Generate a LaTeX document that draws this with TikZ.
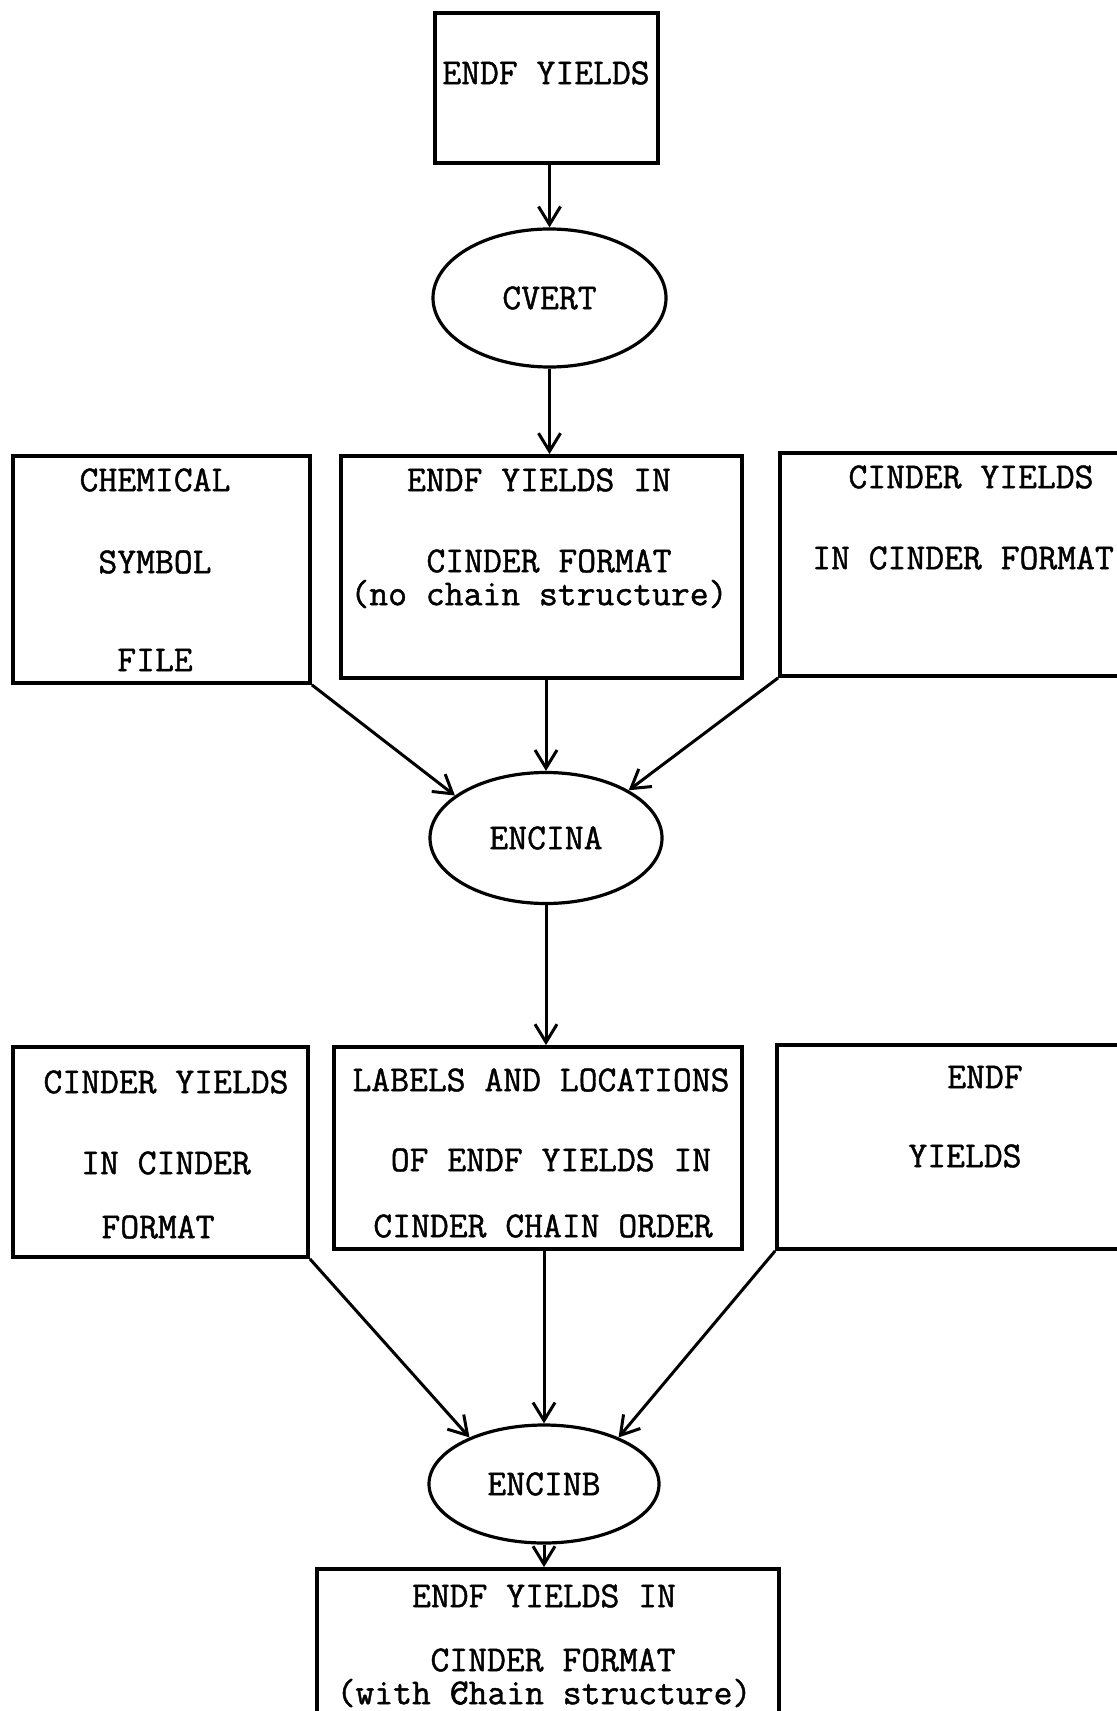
\documentclass[tikz,border=0pt]{standalone}
\usepackage{fontspec}
\usetikzlibrary{shapes.geometric,arrows.meta}

\newfontfamily\twfont{Latin Modern Mono}[BoldFont=*,BoldFeatures={FakeBold=1.2}]

\tikzset{
  datafile/.style={draw,line width=1.9pt,inner sep=0pt},
  prog/.style={draw,ellipse,line width=1.6pt,inner sep=0pt,font=\twfont\bfseries\fontsize{18.3}{22}\selectfont},
  txt/.style={inner sep=0pt,font=\twfont\bfseries\fontsize{18.3}{22}\selectfont},
  flow/.style={line width=1.5pt,-{Straight Barb[length=9pt,width=11pt]}}
}

\begin{document}
\begin{tikzpicture}[x=0.5pt,y=-0.5pt]

\useasboundingbox (0,0) rectangle (1117,1711);

% top
\node[datafile,minimum width=111.5pt,minimum height=75pt] (endf) at (546.5,88) {};
\node[txt] (endf-t) at (546,73) {ENDF YIELDS};

\node[prog,minimum width=116.5pt,minimum height=69pt] (cvert) at (549.5,298) {CVERT};

% first row
\node[datafile,minimum width=148.5pt,minimum height=113.5pt] (chem) at (161.5,569.5) {};
\node[txt] (chem-a) at (155,480) {CHEMICAL};
\node[txt] (chem-b) at (155,562) {SYMBOL};
\node[txt] (chem-c) at (155,660) {FILE};

\node[datafile,minimum width=200.5pt,minimum height=111pt] (endfin) at (541.5,567) {};
\node[txt] (endfin-a) at (539,480) {ENDF YIELDS IN};
\node[txt] (endfin-b) at (549,561) {CINDER FORMAT};
\node[txt] (endfin-c) at (539,594) {(no chain structure)};

\node[datafile,minimum width=175pt,minimum height=111.5pt] (cinder) at (955,564.5) {};
\node[txt] (cinder-a) at (971,477) {CINDER YIELDS};
\node[txt] (cinder-b) at (963,558) {IN CINDER FORMAT};

\node[prog,minimum width=116pt,minimum height=65.5pt] (encina) at (546,838) {ENCINA};

% second row
\node[datafile,minimum width=147.5pt,minimum height=105pt] (cinderb) at (160.5,1152) {};
\node[txt] (cinderb-a) at (166,1082) {CINDER YIELDS};
\node[txt] (cinderb-b) at (166,1163) {IN CINDER};
\node[txt] (cinderb-c) at (158,1227) {FORMAT};

\node[datafile,minimum width=204pt,minimum height=101pt] (labels) at (538,1148) {};
\node[txt] (labels-a) at (541,1080) {LABELS AND LOCATIONS};
\node[txt] (labels-b) at (551,1160) {OF ENDF YIELDS IN};
\node[txt] (labels-c) at (543,1226) {CINDER CHAIN ORDER};

\node[datafile,minimum width=176.5pt,minimum height=102pt] (endfb) at (953.5,1147) {};
\node[txt] (endfb-a) at (985,1077) {ENDF};
\node[txt] (endfb-b) at (965,1156) {YIELDS};

\node[prog,minimum width=115pt,minimum height=59pt] (encinb) at (544,1484) {ENCINB};

% result
\node[datafile,minimum width=231pt,minimum height=80.5pt] (result) at (548,1649.5) {};
\node[txt] (result-a) at (544,1596) {ENDF YIELDS IN};
\node[txt] (result-b) at (553,1660) {CINDER FORMAT};
\node[txt] (result-c) at (544,1693) {(with \rlap{c}Chain structure)};

% flow lines
\draw[flow] (endf.south -| cvert.north) -- (cvert.north);
\draw[flow] (cvert.south) -- (cvert.south |- endfin.north);

\draw[flow] (endfin.south -| encina.north) -- (encina.north);
\draw[flow] (chem.south east) -- (encina.155);
\draw[flow] (cinder.south west) -- (encina.30);

\draw[flow] (encina.south) -- (encina.south |- labels.north);

\draw[flow] (labels.south -| encinb.north) -- (encinb.north);
\draw[flow] (cinderb.south east) -- (encinb.148);
\draw[flow] (endfb.south west) -- (encinb.32);

\draw[flow] (encinb.south) -- (encinb.south |- result.north);

\end{tikzpicture}
\end{document}
